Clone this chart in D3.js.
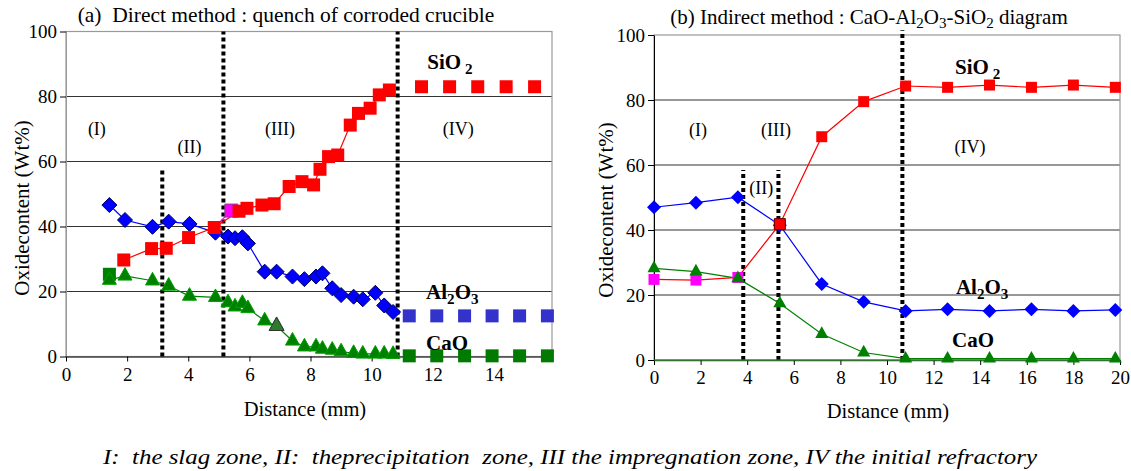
<!DOCTYPE html>
<html>
<head>
<meta charset="utf-8">
<script src="https://cdn.jsdelivr.net/npm/d3@7"></script>
<style>
  body { margin: 0; background: #fff; }
  svg { display: block; }
  text { font-family: "Liberation Serif", "Times New Roman", serif; fill: #000; }
</style>
</head>
<body>
<div id="chart"></div>
<script>
// ---- (a) direct method ----
const leftDist   = [1.42, 1.93, 2.83, 3.36, 4.04, 4.89, 5.30, 5.53, 5.77, 5.95, 6.50, 6.89, 7.41, 7.80, 8.18, 8.39, 8.71, 9.00, 9.41, 9.71, 10.12, 10.41, 10.70];
const leftAl2O3  = [46.6, 42.0, 39.9, 41.5, 40.8, 38.1, 36.9, 36.4, 36.7, 34.8, 26.1, 26.1, 24.6, 23.8, 24.6, 25.6, 21.0, 18.9, 18.4, 17.6, 19.6, 15.7, 13.7];
const leftCaO    = [23.5, 24.8, 23.3, 21.7, 18.6, 18.2, 16.6, 15.3, 16.4, 14.8, 11.0, 9.4, 4.8, 3.0, 3.0, 2.3, 2.0, 1.5, 1.0, 0.8, 0.8, 0.8, 0.7];
const leftSiDist = [1.89, 2.80, 3.28, 4.01, 4.85, 5.66, 5.92, 6.41, 6.81, 7.30, 7.72, 8.10, 8.31, 8.59, 8.89, 9.30, 9.57, 9.95, 10.25, 10.58];
const leftSiO2   = [29.7, 33.2, 33.3, 36.6, 39.7, 44.7, 45.6, 46.6, 47.0, 52.3, 53.8, 52.8, 57.6, 61.5, 62.0, 71.2, 74.8, 76.4, 80.5, 82.0];
const leftSiPink = [5.41, 44.9];
const leftCaOSq  = [1.42, 25.3];

// initial refractory, measured separately
const refDist    = [11.23, 12.13, 13.04, 13.94, 14.84, 15.75];
const refAl2O3   = [12.5, 12.5, 12.5, 12.5, 12.5, 12.5];
const refCaO     = [0.2, 0.2, 0.2, 0.2, 0.2, 0.2];
const refSiDist  = [11.63, 12.55, 13.47, 14.40, 15.33];
const refSiO2    = [83.0, 83.0, 83.0, 83.0, 83.0];

const leftZones    = [3.15, 5.15, 10.85];
const leftZoneTops = [58, 100, 100];

// ---- (b) indirect method ----
const rightDist  = [0, 1.8, 3.6, 5.4, 7.2, 9.0, 10.8, 12.6, 14.4, 16.2, 18.0, 19.8];
const rightSiO2  = [24.8, 24.6, 25.4, 41.8, 68.7, 79.5, 84.3, 83.9, 84.6, 83.9, 84.6, 83.9];
const rightAl2O3 = [47.0, 48.4, 50.1, 41.5, 23.4, 17.9, 15.1, 15.6, 15.1, 15.6, 15.1, 15.4];
const rightCaO   = [28.2, 27.2, 25.1, 17.4, 8.0, 2.3, 0.4, 0.4, 0.4, 0.4, 0.4, 0.4];
const rightZones    = [3.83, 5.34, 10.66];
const rightZoneTops = [58.5, 58.5, 101.5];

const yTicks     = [0, 20, 40, 60, 80, 100];
const leftXTicks = [0, 2, 4, 6, 8, 10, 12, 14];
const rightXTicks = [0, 2, 4, 6, 8, 10, 12, 14, 16, 18, 20];

const caption = "I:  the slag zone, II:  theprecipitation  zone, III the impregnation zone, IV the initial refractory";

const svg = d3.select('#chart').append('svg')
    .attr('width', 1131)
    .attr('height', 471);

svg.append('rect').attr('width', 1131).attr('height', 471).attr('fill', '#fff');

function diamond(r) { return `M0,${-r}L${r},0L0,${r}L${-r},0Z`; }
function triangle(b) { const h = b * 0.9; return `M0,${-h*2/3}L${b/2},${h/3}L${-b/2},${h/3}Z`; }
function square(s) { return `M${-s/2},${-s/2}h${s}v${s}h${-s}Z`; }

function plotLine(g, x, y, xs, ys, color) {
  g.append('path')
    .datum(xs.map((d, i) => [d, ys[i]]))
    .attr('fill', 'none')
    .attr('stroke', color)
    .attr('stroke-width', 1.2)
    .attr('d', d3.line().x(d => x(d[0])).y(d => y(d[1])));
}

function plotMarks(g, x, y, xs, ys, shape, fill, stroke) {
  g.append('g').selectAll('path')
    .data(xs.map((d, i) => [d, ys[i]]))
    .join('path')
    .attr('transform', d => `translate(${x(d[0])},${y(d[1])})`)
    .attr('d', shape)
    .attr('fill', fill)
    .attr('stroke', stroke || 'none')
    .attr('stroke-width', 1);
}

function frame(x, y, xTicks, axisColor) {
  const g = svg.append('g');
  const [x0, x1] = x.range();
  const [y0, y1] = y.range();
  // grid
  g.append('g').selectAll('line')
    .data(yTicks.filter(t => t > 0 && t < 100))
    .join('line')
    .attr('x1', x0).attr('x2', x1)
    .attr('y1', d => y(d)).attr('y2', d => y(d))
    .attr('stroke', '#333').attr('stroke-width', 1.2);
  g.append('rect')
    .attr('x', x0).attr('y', y1)
    .attr('width', x1 - x0).attr('height', y0 - y1)
    .attr('fill', 'none').attr('stroke', '#999').attr('stroke-width', 1.2);

  const ya = g.append('g').attr('transform', `translate(${x0},0)`)
    .call(d3.axisLeft(y).tickValues(yTicks).tickSize(6).tickPadding(3).tickSizeOuter(0))
    .attr('font-family', null);
  ya.select('.domain').attr('stroke', axisColor);
  ya.selectAll('line').attr('stroke', '#000');
  ya.selectAll('text').style('font-size', '19px');

  const xa = g.append('g').attr('transform', `translate(0,${y(0)})`)
    .call(d3.axisBottom(x).tickValues(xTicks).tickSize(5).tickPadding(6).tickSizeOuter(0))
    .attr('font-family', null);
  xa.select('.domain').attr('stroke', '#444').attr('stroke-width', 1.3);
  xa.selectAll('line').attr('stroke', '#000');
  xa.selectAll('text').style('font-size', '19px');
  return g;
}

function zones(g, x, y, xs, tops) {
  g.append('g').selectAll('line')
    .data(xs.map((d, i) => [d, tops[i]]))
    .join('line')
    .attr('x1', d => x(d[0])).attr('x2', d => x(d[0]))
    .attr('y1', y(0)).attr('y2', d => y(d[1]))
    .attr('stroke', '#000').attr('stroke-width', 4)
    .attr('stroke-dasharray', '4,3');
}

function label(g, x, y, d, v, txt, size) {
  g.append('text').attr('x', x(d)).attr('y', y(v)).attr('dy', '0.35em')
    .attr('text-anchor', 'middle').style('font-size', (size || 18) + 'px').text(txt);
}

// formula label with subscripts
function formula(g, px, py, parts, size, bold) {
  const t = g.append('text').attr('x', px).attr('y', py)
    .style('font-size', size + 'px').style('font-weight', bold ? 'bold' : 'normal');
  let down = false;
  parts.forEach(([s, kind]) => {
    const ts = t.append('tspan').text(s);
    if (kind === 'sub' && !down) { ts.attr('dy', size * 0.25).style('font-size', (size * 0.72) + 'px'); down = true; }
    else if (kind === 'sub') { ts.style('font-size', (size * 0.72) + 'px'); }
    else if (down) { ts.attr('dy', -size * 0.25); down = false; }
  });
  return t;
}

function axisTitles(cx, cyX, cxY, cyY) {
  svg.append('text').attr('x', cx).attr('y', cyX).attr('text-anchor', 'middle')
    .style('font-size', '20.5px').text('Distance (mm)');
  svg.append('text').attr('transform', `translate(${cxY},${cyY}) rotate(-90)`)
    .attr('text-anchor', 'middle').style('font-size', '21px').text('Oxidecontent (Wt%)');
}

// ===== panel (a) =====
const xL = d3.scaleLinear().domain([0, 15.9]).range([66, 552]);
const yL = d3.scaleLinear().domain([0, 100]).range([356.5, 31.5]);
const gL = frame(xL, yL, leftXTicks, '#999');

svg.append('text').attr('x', 286).attr('y', 22).attr('text-anchor', 'middle')
  .style('font-size', '21.5px').attr('xml:space', 'preserve')
  .text('(a)  Direct method : quench of corroded crucible');
axisTitles(305, 416, 29, 208);

zones(gL, xL, yL, leftZones, leftZoneTops);

plotLine(gL, xL, yL, leftDist, leftCaO, '#008000');
plotLine(gL, xL, yL, leftDist, leftAl2O3, '#0000ff');
plotLine(gL, xL, yL, [leftSiDist[4], leftSiPink[0], leftSiDist[5]], [leftSiO2[4], leftSiPink[1], leftSiO2[5]], '#ff00ff');
plotLine(gL, xL, yL, leftSiDist, leftSiO2, '#ff0000');

plotMarks(gL, xL, yL, [leftSiPink[0]], [leftSiPink[1]], square(13), '#ff00ff', '#804080');
plotMarks(gL, xL, yL, [leftCaOSq[0]], [leftCaOSq[1]], square(13), '#008000');
plotMarks(gL, xL, yL, leftDist, leftCaO, triangle(14), '#008000', '#00a000');
plotMarks(gL, xL, yL, [leftDist[11]], [leftCaO[11]], triangle(15), '#2e7a2e', '#303030');
plotMarks(gL, xL, yL, leftDist, leftAl2O3, diamond(7.5), '#0000ff', '#000060');
plotMarks(gL, xL, yL, leftSiDist, leftSiO2, square(13), '#ff0000');

plotMarks(gL, xL, yL, refSiDist, refSiO2, square(13), '#ff0000');
plotMarks(gL, xL, yL, refDist, refAl2O3, square(13), '#3333cc');
plotMarks(gL, xL, yL, refDist, refCaO, square(13), '#007a00');

label(gL, xL, yL, 1.01, 70, '(I)');
label(gL, xL, yL, 4.04, 64.5, '(II)');
label(gL, xL, yL, 7.0, 70, '(III)');
label(gL, xL, yL, 12.83, 70, '(IV)');

formula(gL, xL(11.82), yL(90.6) + 7, [['SiO', ''], [' 2', 'sub']], 21, true);
formula(gL, xL(11.78), yL(19.8) + 7, [['Al', ''], ['2', 'sub'], ['O', ''], ['3', 'sub']], 21, true);
formula(gL, xL(11.78), yL(4.15) + 7, [['CaO', '']], 21, true);

// ===== panel (b) =====
const xR = d3.scaleLinear().domain([0, 20]).range([654, 1120]);
const yR = d3.scaleLinear().domain([0, 100]).range([360, 35]);
const gR = frame(xR, yR, rightXTicks, '#000');

const tt = svg.append('text').attr('x', 869).attr('y', 24).attr('text-anchor', 'middle')
  .style('font-size', '21px');
[['(b) Indirect method : CaO-Al', ''], ['2', 'sub'], ['O', ''], ['3', 'sub'], ['-SiO', ''], ['2', 'sub'], [' diagram', '']]
  .forEach(([s, kind], i, arr) => {
    const ts = tt.append('tspan').text(s);
    if (kind === 'sub') ts.attr('dy', 4).style('font-size', '15px');
    if (i > 0 && arr[i - 1][1] === 'sub' && kind !== 'sub') ts.attr('dy', -4);
  });
axisTitles(888, 418, 613, 210);

zones(gR, xR, yR, rightZones, rightZoneTops);

plotLine(gR, xR, yR, [rightDist[0], rightDist[rightDist.length - 1]], [0, 0], '#22a022');
plotLine(gR, xR, yR, rightDist, rightCaO, '#008000');
plotLine(gR, xR, yR, rightDist, rightAl2O3, '#0000ff');
plotLine(gR, xR, yR, rightDist, rightSiO2, '#ff0000');

plotMarks(gR, xR, yR, rightDist, rightAl2O3, diamond(7), '#0000ff');
plotMarks(gR, xR, yR, rightDist.slice(3), rightSiO2.slice(3), square(11), '#ff0000');
plotMarks(gR, xR, yR, [rightDist[3]], [rightSiO2[3]], square(11), '#ff0000', '#600000');
plotMarks(gR, xR, yR, rightDist.slice(0, 3), rightSiO2.slice(0, 3), square(11), '#ff00ff');
plotMarks(gR, xR, yR, rightDist, rightCaO, triangle(13), '#008000');

label(gR, xR, yR, 1.89, 70.8, '(I)');
label(gR, xR, yR, 5.24, 70.8, '(III)');
label(gR, xR, yR, 4.6, 52.9, '(II)');
label(gR, xR, yR, 13.56, 65.5, '(IV)');

formula(gR, xR(12.92), yR(90.2) + 7, [['SiO', ''], [' 2', 'sub']], 21, true);
formula(gR, xR(12.96), yR(22.5) + 7, [['Al', ''], ['2', 'sub'], ['O', ''], ['3', 'sub']], 21, true);
formula(gR, xR(12.79), yR(6.2) + 7, [['CaO', '']], 21, true);

// caption
svg.append('text').attr('x', 103).attr('y', 464)
  .attr('textLength', 934).attr('lengthAdjust', 'spacingAndGlyphs')
  .attr('xml:space', 'preserve')
  .style('font-size', '22px').style('font-style', 'italic')
  .text(caption);
</script>
</body>
</html>
